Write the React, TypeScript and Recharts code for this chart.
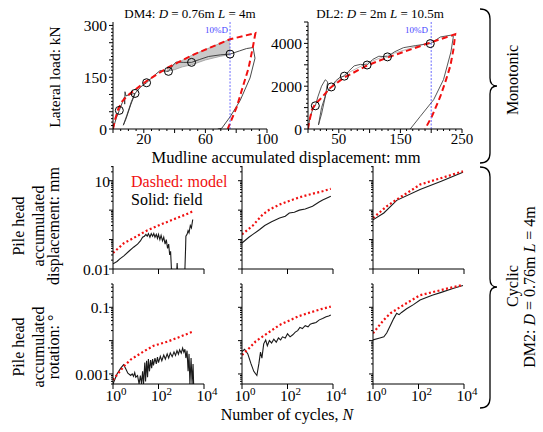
import { ComposedChart, Line, Area, XAxis, YAxis, ReferenceLine } from 'recharts';

const FONT = '"Liberation Serif", "Times New Roman", serif';
const RED = '#f01010';
const BLUE = '#4646ff';

// ---- monotonic tests: [mudline displacement mm, lateral load kN]
const dm4Model = [[0, 0], [1.5, 30], [3.4, 58], [6, 80], [9, 95], [13.2, 110], [21.8, 139], [34.8, 176], [52, 215], [76, 260], [92.5, 278], [90.5, 230], [88, 176], [84, 118], [80.3, 63], [74.5, 0]];
const dm4Field = [[0, 0], [2, 30], [4.1, 54], [6, 76], [7.4, 92], [7.6, 72], [7.8, 108], [8.4, 96], [11, 100], [14.3, 103], [11.5, 70], [8.5, 30], [6.7, 11], [9, 40], [12, 80], [14.3, 103], [18, 122], [21.8, 134], [26, 152], [30.5, 169], [33, 168], [36, 167], [39, 185], [41, 194], [46, 193], [51, 193], [56, 201], [62, 210], [70, 215], [76, 217], [82, 226], [86.7, 233], [91, 236], [92.2, 205], [89, 148], [82.5, 82], [76, 35], [70.6, 2], [68, 0]];
const dm4BandX = [35, 40, 45, 51, 60, 70, 76];
const dm4BandLow = [167, 172, 180, 186, 200, 211, 215];
const dm4BandHigh = [175, 187, 199, 213, 230, 249, 260];
const dm4Points = [[4.1, 54], [14.3, 103], [21.8, 134], [36, 167], [51, 193], [76, 217]];

const dl2Model = [[0, 0], [2, 350], [6.5, 896], [12, 1180], [20, 1400], [36, 1920], [58, 2390], [96, 2970], [128, 3330], [160, 3650], [198.6, 4040], [239, 4430], [236, 3700], [231, 2940], [223, 2200], [214.8, 1520], [201, 580], [190, 0]];
const dl2Field = [[0, 0], [3, 500], [8, 950], [11.9, 1085], [16, 1500], [22, 2000], [28, 2300], [32, 2200], [28, 1500], [22, 700], [17, 190], [22, 1000], [30, 1700], [37.8, 1965], [45, 2250], [52, 2420], [59, 2470], [66, 2700], [75, 2950], [85, 3020], [96, 2990], [105, 3250], [115, 3400], [129, 3370], [140, 3600], [155, 3800], [175, 3900], [198.5, 3990], [215, 4300], [231, 4380], [236, 4330], [232, 3600], [220, 2310], [204, 1370], [182, 580], [166, 0]];
const dl2Grey = [[40, 2050], [60, 2550], [96, 3080], [129, 3450], [160, 3720], [198.5, 4060]];
const dl2Points = [[11.9, 1085], [37.8, 1965], [59, 2470], [96, 2990], [129, 3370], [198.5, 3990]];

// ---- cyclic tests: [number of cycles, accumulated value]
const dispLeftModel = [[1, 0.035], [3, 0.075], [8, 0.113], [30, 0.2], [120, 0.32], [500, 0.5], [1500, 0.7], [3200, 0.91]];
const dispLeftField = [[1, 0.015], [1.5, 0.018], [2, 0.022], [3, 0.028], [5, 0.04], [8, 0.055], [12, 0.07], [16, 0.09], [20, 0.12], [24, 0.13], [28, 0.15], [32, 0.13], [36, 0.16], [42, 0.12], [48, 0.16], [55, 0.13], [62, 0.16], [70, 0.12], [80, 0.15], [90, 0.11], [100, 0.15], [115, 0.1], [130, 0.14], [150, 0.09], [170, 0.12], [195, 0.07], [220, 0.1], [250, 0.05], [280, 0.07], [310, 0.03], [340, 0.04], [370, 0.01], [400, 0.01], [420, null], [640, 0.01], [660, 0.016], [680, 0.01], [700, null], [1450, 0.01], [1550, 0.05], [1600, 0.13], [1800, 0.15], [2000, 0.2], [2200, 0.17], [2500, 0.3], [2800, 0.25], [3200, 0.48]];
const dispMidModel = [[1, 0.15], [3, 0.3], [8, 0.7], [16, 1.04], [45, 1.55], [150, 2.2], [470, 2.95], [1260, 3.6], [3500, 4.4], [8000, 5.3]];
const dispMidField = [[1, 0.076], [2, 0.12], [3, 0.15], [6, 0.22], [10, 0.3], [20, 0.4], [45, 0.54], [80, 0.62], [120, 0.8], [200, 0.85], [330, 1.0], [600, 1.1], [1260, 1.35], [2450, 1.88], [3500, 2.2], [6800, 2.8], [8000, 2.95]];
const dispRightModel = [[1, 0.54], [2, 0.85], [4, 1.35], [11, 2.3], [32, 3.85], [117, 7.4], [316, 9.4], [1000, 12.3], [3000, 16], [9000, 21]];
const dispRightField = [[1, 0.47], [3, 0.8], [11, 2.15], [117, 5], [1000, 9.5], [9000, 19.5]];

const rotLeftModel = [[1, 0.00066], [2, 0.0012], [3, 0.0017], [6, 0.0027], [22, 0.0047], [60, 0.007], [245, 0.0093], [1000, 0.0135], [3200, 0.0186]];
const rotLeftField = [[1, 0.0005], [1.5, 0.001], [2.2, 0.0015], [2.9, 0.0019], [3.5, 0.0015], [4.5, 0.00105], [6, 0.0009], [7, 0.001], [8, 0.00085], [9, 0.0011], [10, 0.0008], [12, 0.0009], [14, 0.0005], [16, 0.0009], [18, 0.0005], [20, 0.0012], [22, 0.0005], [25, 0.0022], [27, 0.0006], [30, 0.0025], [33, 0.0008], [36, 0.0028], [40, 0.0012], [45, 0.0026], [50, 0.0015], [55, 0.0028], [60, 0.0018], [70, 0.003], [80, 0.002], [90, 0.0032], [100, 0.0022], [120, 0.0034], [140, 0.0025], [170, 0.0037], [200, 0.0028], [240, 0.004], [280, 0.003], [330, 0.0043], [400, 0.0033], [480, 0.0046], [560, 0.0036], [650, 0.005], [750, 0.0039], [850, 0.0053], [1000, 0.0042], [1150, 0.006], [1300, 0.0045], [1450, 0.0055], [1600, 0.003], [1800, 0.005], [2000, 0.0012], [2200, 0.004], [2400, 0.0005], [2700, 0.003], [3000, 0.0005], [3300, 0.002], [3500, 0.0005]];
const rotMidModel = [[1, 0.0037], [2, 0.0058], [4, 0.0095], [12, 0.016], [45, 0.0295], [330, 0.055], [1000, 0.07], [3000, 0.088], [8000, 0.105]];
const rotMidField = [[1, 0.0047], [1.3, 0.0055], [1.8, 0.004], [2.5, 0.002], [3.3, 0.0012], [4.5, 0.0009], [5.5, 0.002], [6.5, 0.0045], [7.5, 0.003], [9, 0.008], [11, 0.0104], [13, 0.007], [16, 0.01], [20, 0.0085], [25, 0.011], [32, 0.009], [40, 0.012], [50, 0.0105], [60, 0.013], [80, 0.012], [100, 0.016], [130, 0.013], [170, 0.015], [220, 0.018], [280, 0.02], [350, 0.025], [450, 0.023], [600, 0.028], [800, 0.026], [1000, 0.031], [1300, 0.033], [1800, 0.035], [2500, 0.042], [3500, 0.046], [5000, 0.052], [6500, 0.055], [8000, 0.059]];
const rotRightModel = [[1, 0.0166], [2, 0.03], [3, 0.042], [5.8, 0.066], [26, 0.126], [117, 0.23], [1000, 0.33], [9000, 0.47]];
const rotRightField = [[1, 0.0105], [2, 0.012], [3, 0.013], [4, 0.017], [6, 0.03], [8, 0.045], [11, 0.066], [14, 0.06], [18, 0.07], [30, 0.09], [60, 0.12], [117, 0.166], [400, 0.23], [1000, 0.28], [3000, 0.36], [9000, 0.45]];

// ticks
const dm4XLabels = [20, 60, 100];
const dm4YLabels = [0, 150, 300];
const dl2XLabels = [50, 150, 250];
const dl2YLabels = [0, 2000, 4000];
const cycleTicks = [1, 100, 10000];

const pts = (a: any[]) => a.map(([x, y]) => ({ x, y }));
const range = (from: number, to: number, step: number) => {
  const out: number[] = [];
  for (let v = from; v <= to + 1e-9; v += step) out.push(v);
  return out;
};
const logTicks = (lo: number, hi: number) => {
  const out: number[] = [];
  for (let k = -4; k <= 2; k++) {
    for (let m = 1; m <= 9; m++) {
      const v = Number((m * Math.pow(10, k)).toPrecision(3));
      if (v >= lo && v <= hi) out.push(v);
    }
  }
  return out;
};

const linXTick = (labels: number[], majorEvery: number) => (p: any) => {
  const v = p.payload.value;
  const major = v % majorEvery === 0;
  return (
    <g>
      <line x1={p.x} x2={p.x} y1={p.y} y2={p.y + (major ? 4 : 2)} stroke="#000" />
      {labels.includes(v) && (
        <text x={p.x} y={p.y + 15} textAnchor="middle" fontSize={15} fill="#000">{v}</text>
      )}
    </g>
  );
};
const linYTick = (labels: number[], majorEvery: number) => (p: any) => {
  const v = p.payload.value;
  const major = v % majorEvery === 0;
  return (
    <g>
      <line x1={p.x} x2={p.x - (major ? 4 : 2)} y1={p.y} y2={p.y} stroke="#000" />
      {labels.includes(v) && (
        <text x={p.x - 6} y={p.y + 6} textAnchor="end" fontSize={15.5} fill="#000">{v}</text>
      )}
    </g>
  );
};
const logXTick = (show: boolean) => (p: any) => {
  const e = Math.round(Math.log10(p.payload.value));
  return (
    <g>
      <line x1={p.x} x2={p.x} y1={p.y} y2={p.y + 5} stroke="#000" />
      {show && (
        <text x={p.x + 3} y={p.y + 16.5} textAnchor="middle" fontSize={15.5} fill="#000">
          10<tspan dy={-6} fontSize={11}>{e}</tspan>
        </text>
      )}
    </g>
  );
};
const logYTick = (labels: Record<string, string>) => (p: any) => {
  const v = p.payload.value;
  const l = Math.log10(v);
  const major = Math.abs(l - Math.round(l)) < 1e-6;
  const lab = labels[String(v)];
  return (
    <g>
      <line x1={p.x} x2={p.x - (major ? 4 : 2)} y1={p.y} y2={p.y} stroke="#000" />
      {lab && (
        <text x={p.x - 3} y={p.y + 6} textAnchor="end" fontSize={15.5} fill="#000">{lab}</text>
      )}
    </g>
  );
};

const PL = 50, PT = 10, PR = 16, PB = 30;
const Frame = ({ left, top, w, h, children }: any) => (
  <div style={{ position: 'absolute', left: left - PL, top: top - PT }}>
    <ComposedChart width={w + PL + PR} height={h + PT + PB} margin={{ top: PT, right: PR, bottom: 0, left: 0 }}>
      {children}
    </ComposedChart>
  </div>
);

const axisLine = { stroke: '#000', strokeWidth: 1 };
const circleDot = (p: any) => <circle cx={p.cx} cy={p.cy} r={4} fill="none" stroke="#000" strokeWidth={1} key={p.index} />;

const CyclicPanel = ({ left, top, h, yDomain, yTicks, yLabels, model, field, bottomRow }: any) => (
  <Frame left={left} top={top} w={91} h={h}>
    <XAxis dataKey="x" type="number" scale="log" domain={[1, 10000]} allowDataOverflow ticks={cycleTicks} interval={0}
      tick={logXTick(bottomRow)} tickLine={false} tickSize={0} tickMargin={0} axisLine={axisLine} height={PB} />
    <YAxis type="number" scale="log" domain={yDomain} allowDataOverflow ticks={yTicks} interval={0}
      tick={logYTick(yLabels)} tickLine={false} tickSize={0} tickMargin={0} axisLine={axisLine} width={PL} />
    <Line data={pts(field)} dataKey="y" type="linear" stroke="#1a1a1a" strokeWidth={1.1} dot={false} isAnimationActive={false} />
    <Line data={pts(model)} dataKey="y" type="linear" stroke={RED} strokeWidth={2.2} strokeDasharray="2 2.4" dot={false} isAnimationActive={false} />
  </Frame>
);

const dispTicks = logTicks(0.01, 31.6);
const rotTicks = logTicks(0.0005, 0.5);

export default function App() {
  const dm4Band = dm4BandX.map((x, i) => ({ x, range: [dm4BandLow[i], dm4BandHigh[i]] }));
  return (
    <div style={{ position: 'absolute', left: 0, top: 0, width: 543, height: 432, background: '#fff', fontFamily: FONT }}>
      {/* DM4 monotonic */}
      <Frame left={113} top={22} w={154} h={107}>
        <XAxis dataKey="x" type="number" domain={[0, 100]} allowDataOverflow ticks={range(0, 100, 5)} interval={0}
          tick={linXTick(dm4XLabels, 20)} tickLine={false} tickSize={0} tickMargin={0} axisLine={axisLine} height={PB} />
        <YAxis type="number" domain={[0, 310]} allowDataOverflow ticks={range(0, 300, 10)} interval={0}
          tick={linYTick(dm4YLabels, 50)} tickLine={false} tickSize={0} tickMargin={0} axisLine={axisLine} width={PL} />
        <Area data={dm4Band} dataKey="range" type="linear" stroke="#9a9a9a" strokeWidth={0.8} fill="#c9c9c9" fillOpacity={1} isAnimationActive={false} />
        <Line data={pts(dm4Field)} dataKey="y" type="linear" stroke="#333" strokeWidth={0.9} dot={false} isAnimationActive={false} />
        <Line data={pts(dm4Model)} dataKey="y" type="linear" stroke={RED} strokeWidth={2} strokeDasharray="6 3.5" dot={false} isAnimationActive={false} />
        <Line data={pts(dm4Points)} dataKey="y" stroke="none" dot={circleDot} isAnimationActive={false} />
        <ReferenceLine x={76} stroke={BLUE} strokeWidth={0.8} strokeDasharray="2 1.5" />
      </Frame>

      {/* DL2 monotonic */}
      <Frame left={308} top={22} w={154} h={107}>
        <XAxis dataKey="x" type="number" domain={[0, 250]} allowDataOverflow ticks={range(0, 250, 10)} interval={0}
          tick={linXTick(dl2XLabels, 50)} tickLine={false} tickSize={0} tickMargin={0} axisLine={axisLine} height={PB} />
        <YAxis type="number" domain={[0, 5000]} allowDataOverflow ticks={range(0, 5000, 200)} interval={0}
          tick={linYTick(dl2YLabels, 1000)} tickLine={false} tickSize={0} tickMargin={0} axisLine={axisLine} width={PL} />
        <Line data={pts(dl2Grey)} dataKey="y" type="linear" stroke="#aaa" strokeWidth={0.8} dot={false} isAnimationActive={false} />
        <Line data={pts(dl2Field)} dataKey="y" type="linear" stroke="#444" strokeWidth={0.9} dot={false} isAnimationActive={false} />
        <Line data={pts(dl2Model)} dataKey="y" type="linear" stroke={RED} strokeWidth={2} strokeDasharray="6 3.5" dot={false} isAnimationActive={false} />
        <Line data={pts(dl2Points)} dataKey="y" stroke="none" dot={circleDot} isAnimationActive={false} />
        <ReferenceLine x={200} stroke={BLUE} strokeWidth={0.8} strokeDasharray="2 1.5" />
      </Frame>

      {/* cyclic: accumulated displacement */}
      <CyclicPanel left={113} top={166} h={103} yDomain={[0.01, 31.6]} yTicks={dispTicks} yLabels={{ '10': '10', '0.01': '0.01' }} model={dispLeftModel} field={dispLeftField} bottomRow={false} />
      <CyclicPanel left={242} top={166} h={103} yDomain={[0.01, 31.6]} yTicks={dispTicks} yLabels={{}} model={dispMidModel} field={dispMidField} bottomRow={false} />
      <CyclicPanel left={373} top={166} h={103} yDomain={[0.01, 31.6]} yTicks={dispTicks} yLabels={{}} model={dispRightModel} field={dispRightField} bottomRow={false} />

      {/* cyclic: accumulated rotation */}
      <CyclicPanel left={113} top={284} h={100} yDomain={[0.0005, 0.5]} yTicks={rotTicks} yLabels={{ '0.1': '0.1', '0.001': '0.001' }} model={rotLeftModel} field={rotLeftField} bottomRow />
      <CyclicPanel left={242} top={284} h={100} yDomain={[0.0005, 0.5]} yTicks={rotTicks} yLabels={{}} model={rotMidModel} field={rotMidField} bottomRow />
      <CyclicPanel left={373} top={284} h={100} yDomain={[0.0005, 0.5]} yTicks={rotTicks} yLabels={{}} model={rotRightModel} field={rotRightField} bottomRow />

      <svg width={543} height={432} style={{ position: 'absolute', left: 0, top: 0, pointerEvents: 'none' }} fontFamily={FONT}>
        <text x={190} y={18} textAnchor="middle" fontSize={13}>DM4: <tspan fontStyle="italic">D</tspan> = 0.76m <tspan fontStyle="italic">L</tspan> = 4m</text>
        <text x={380} y={18} textAnchor="middle" fontSize={13}>DL2: <tspan fontStyle="italic">D</tspan> = 2m <tspan fontStyle="italic">L</tspan> = 10.5m</text>
        <text x={228} y={33} textAnchor="end" fontSize={9} fill={BLUE}>10%D</text>
        <text x={428} y={33} textAnchor="end" fontSize={9} fill={BLUE}>10%D</text>

        <text transform="translate(60,77) rotate(-90)" textAnchor="middle" fontSize={15.5}>Lateral load: kN</text>
        <text x={286} y={163} textAnchor="middle" fontSize={16.5}>Mudline accumulated displacement: mm</text>

        <text transform="translate(24,226) rotate(-90)" textAnchor="middle" fontSize={16}>Pile head</text>
        <text transform="translate(44,226) rotate(-90)" textAnchor="middle" fontSize={16}>accumulated</text>
        <text transform="translate(59,226) rotate(-90)" textAnchor="middle" fontSize={16}>displacement: mm</text>

        <text transform="translate(24,347) rotate(-90)" textAnchor="middle" fontSize={16}>Pile head</text>
        <text transform="translate(44,347) rotate(-90)" textAnchor="middle" fontSize={16}>accumulated</text>
        <text transform="translate(59,347) rotate(-90)" textAnchor="middle" fontSize={16}>rotation: °</text>

        <text x={131} y={187} fontSize={16} fill={RED}>Dashed: model</text>
        <text x={131} y={205} fontSize={16}>Solid: field</text>

        <text x={287} y={420} textAnchor="middle" fontSize={16}>Number of cycles, <tspan fontStyle="italic">N</tspan></text>

        <path d="M480,9 Q490,9 490,19 L490,78 Q490,86 497,86 Q490,86 490,94 L490,153 Q490,163 480,163" fill="none" stroke="#000" strokeWidth={1.3} />
        <path d="M480,167 Q490,167 490,177 L490,279 Q490,287 497,287 Q490,287 490,295 L490,398 Q490,408 480,408" fill="none" stroke="#000" strokeWidth={1.3} />
        <text transform="translate(518,80) rotate(-90)" textAnchor="middle" fontSize={16}>Monotonic</text>
        <text transform="translate(518,286) rotate(-90)" textAnchor="middle" fontSize={16}>Cyclic</text>
        <text transform="translate(535,287) rotate(-90)" textAnchor="middle" fontSize={16}>DM2: <tspan fontStyle="italic">D</tspan> = 0.76m <tspan fontStyle="italic">L</tspan> = 4m</text>
      </svg>
    </div>
  );
}
